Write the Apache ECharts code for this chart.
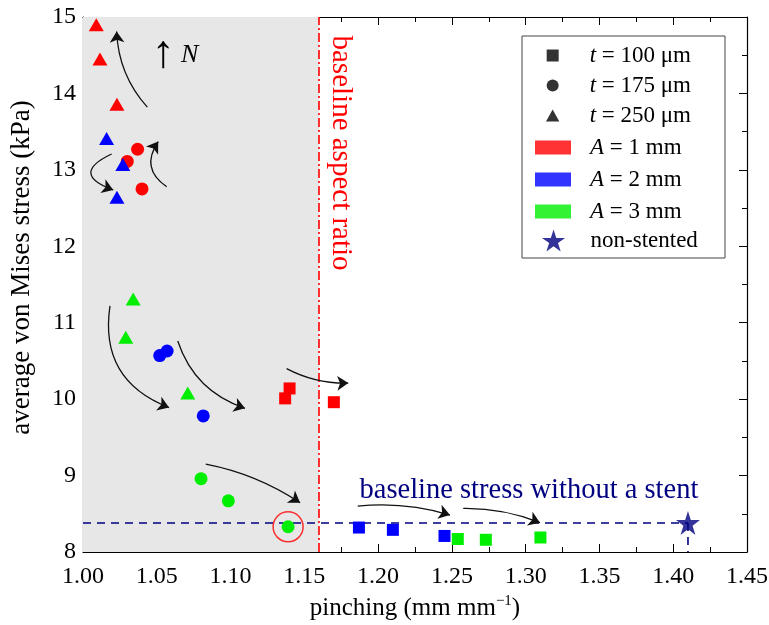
<!DOCTYPE html>
<html><head><meta charset="utf-8">
<script src="https://cdn.jsdelivr.net/npm/echarts@6/dist/echarts.min.js"></script>
<style>html,body{margin:0;padding:0;background:#fff}#c{width:769px;height:625px}</style>
</head><body><div id="c"></div>
<script>
// ---------------- data ----------------
const xTickLabels = ['1.00','1.05','1.10','1.15','1.20','1.25','1.30','1.35','1.40','1.45'];
const yTickLabels = ['8','9','10','11','12','13','14','15'];

// A = 1 mm (red)
const a1_t100 = [[1.137,10.01],[1.140,10.14],[1.170,9.96]];
const a1_t175 = [[1.030,13.11],[1.037,13.27],[1.040,12.75]];
const a1_t250 = [[1.009,14.90],[1.0115,14.45],[1.023,13.86]];
// A = 2 mm (blue)
const a2_t100 = [[1.187,8.32],[1.210,8.29],[1.245,8.21]];
const a2_t175 = [[1.052,10.57],[1.057,10.63],[1.0815,9.78]];
const a2_t250 = [[1.016,13.41],[1.027,13.07],[1.023,12.64]];
// A = 3 mm (green)
const a3_t100 = [[1.254,8.17],[1.273,8.16],[1.310,8.19]];
const a3_t175 = [[1.080,8.96],[1.0985,8.67],[1.139,8.33]];
const a3_t250 = [[1.034,11.31],[1.029,10.81],[1.071,10.08]];
// non-stented
const nonStented = [[1.41,8.38]];
const highlighted = [[1.139,8.33]];

const baselineStress = 8.38;
const baselineAspect = 1.16;

// curved arrows: start / end in data units
const arrowPaths = [
  [[1.0436,13.82],[1.0228,14.81]],
  [[1.0194,13.207],[1.0205,12.737]],
  [[1.0567,12.78],[1.051,13.37]],
  [[1.0183,11.22],[1.0583,9.89]],
  [[1.0642,10.76],[1.1098,9.88]],
  [[1.138,10.40],[1.1798,10.21]],
  [[1.0832,9.15],[1.1471,8.645]],
  [[1.1862,8.60],[1.2487,8.484]],
  [[1.2577,8.57],[1.3097,8.383]]
];
const arrowBends = [0.18,-1.2,0.5,-0.4,-0.25,-0.13,0.1,0.1,0.1];

// annotation anchors (data units)
const aspectLabelPos = [1.1748, 13.22];
const stressLabelPos = [1.3022, 8.80];
const northLabelPos = [1.0623, 14.50];

// ---------------- styling ----------------
const SERIF = '"Liberation Serif","Times New Roman",serif';
const RED = '#ff0000', BLUE = '#0000ff', GREEN = '#00ee00', NAVY = '#000080';
const STAR = 'path://M50,2 L61.2,36.6 L97.6,36.6 L68.2,58 L79.4,92.6 L50,71.2 L20.6,92.6 L31.8,58 L2.4,36.6 L38.8,36.6 Z';
const SQ_ICON = 'path://M0,0H10V10H0Z';
const TRI_ICON = 'path://M5,0L10,9L0,9Z';
const BAR_ICON = 'path://M0,0H36V14H0Z';

const shapeOf = {t100:{symbol:'rect',size:12}, t175:{symbol:'circle',size:13}, t250:{symbol:'triangle',size:[15,13]}};
function sc(name, data, color, shape){
  return {type:'scatter', name, data, symbol:shapeOf[shape].symbol, symbolSize:shapeOf[shape].size,
    itemStyle:{color, opacity:1}, z:4, silent:true};
}

function axisCommon(){
  return {
    type:'value', axisLine:{show:true, onZero:false, lineStyle:{color:'#000', width:1.2}},
    axisTick:{show:true, inside:true, length:8, lineStyle:{color:'#000', width:1}},
    minorTick:{show:true, splitNumber:2, length:5, lineStyle:{color:'#000', width:1}},
    splitLine:{show:false}, minorSplitLine:{show:false}
  };
}

const richLegend = {i:{fontStyle:'italic', fontFamily:SERIF, fontSize:23, lineHeight:20, color:'#000'}};
const legendText = {fontFamily:SERIF, fontSize:23, color:'#000', lineHeight:20, rich:richLegend};
const legendFmt = n => n.replace(/^([tA]) /, '{i|$1} ');

const option = {
  animation:false,
  backgroundColor:'#fff',
  grid:{left:83, right:22, top:17, bottom:73, containLabel:false, outerBoundsMode:'none'},
  xAxis:[
    Object.assign(axisCommon(), {
      min:1.0, max:1.45, interval:0.05, position:'bottom',
      axisLabel:{show:true, margin:13, fontFamily:SERIF, fontSize:24, color:'#000', hideOverlap:false,
        showMinLabel:true, showMaxLabel:true,
        formatter:v => xTickLabels[Math.round((v-1)/0.05)] ?? ''},
      name:'pinching (mm mm{sup|−1})', nameLocation:'middle', nameGap:42,
      nameTextStyle:{fontFamily:SERIF, fontSize:25, color:'#000', lineHeight:28,
        rich:{sup:{fontFamily:SERIF, fontSize:15, verticalAlign:'top', lineHeight:28, color:'#000'}}}
    }),
    Object.assign(axisCommon(), {min:1.0, max:1.45, interval:0.05, position:'top', axisLabel:{show:false}})
  ],
  yAxis:[
    Object.assign(axisCommon(), {
      min:8, max:15, interval:1, position:'left',
      axisLabel:{show:true, margin:7, fontFamily:SERIF, fontSize:24, color:'#000', hideOverlap:false,
        showMinLabel:true, showMaxLabel:true,
        formatter:v => yTickLabels[Math.round(v-8)] ?? ''},
      name:'average von Mises stress (kPa)', nameLocation:'middle', nameGap:48,
      nameTextStyle:{fontFamily:SERIF, fontSize:27, color:'#000', padding:[0,0,0,34]}
    }),
    Object.assign(axisCommon(), {min:8, max:15, interval:1, position:'right', axisLabel:{show:false}})
  ],
  legend:[
    {orient:'vertical', left:546, top:44, itemWidth:64, itemHeight:12, itemGap:7, padding:0,
      selectedMode:false, textStyle:legendText, formatter:legendFmt,
      data:[{name:'t = 100 μm', icon:SQ_ICON},{name:'t = 175 μm', icon:'circle'},{name:'t = 250 μm', icon:TRI_ICON}]},
    {orient:'vertical', left:535, top:136, itemWidth:64, itemHeight:14, itemGap:9, padding:0,
      selectedMode:false, textStyle:legendText, formatter:legendFmt,
      data:[{name:'A = 1 mm', icon:BAR_ICON},{name:'A = 2 mm', icon:BAR_ICON},{name:'A = 3 mm', icon:BAR_ICON}]},
    {orient:'vertical', left:542, top:229, itemWidth:64, itemHeight:22, itemGap:11, padding:0,
      selectedMode:false, textStyle:legendText, formatter:legendFmt,
      data:[{name:'non-stented', icon:STAR}]}
  ],
  series:[
    // shaded region + baseline aspect ratio line, hosted on the baseline stress line
    {type:'line', name:'baseline stress', data:[[1.0,baselineStress],[nonStented[0][0],baselineStress]],
      showSymbol:false, symbol:'none', silent:true, z:3,
      lineStyle:{color:NAVY, width:1.6, type:[8,6]},
      markArea:{silent:true, z:1, itemStyle:{color:'#e7e7e7'}, label:{show:false},
        data:[[{xAxis:1.0},{xAxis:baselineAspect}]]},
      markLine:{silent:true, symbol:['none','none'], label:{show:false}, z:3,
        lineStyle:{color:RED, width:1.6, type:[9,3,2,3]}, data:[{xAxis:baselineAspect}]}
    },
    {type:'line', name:'baseline tick', data:[[nonStented[0][0],baselineStress],[nonStented[0][0],8]],
      showSymbol:false, symbol:'none', silent:true, z:3, lineStyle:{color:NAVY, width:1.6, type:[8,6]}},
    sc('A1 t100', a1_t100, RED, 't100'), sc('A1 t175', a1_t175, RED, 't175'), sc('A1 t250', a1_t250, RED, 't250'),
    sc('A2 t100', a2_t100, BLUE, 't100'), sc('A2 t175', a2_t175, BLUE, 't175'), sc('A2 t250', a2_t250, BLUE, 't250'),
    sc('A3 t100', a3_t100, GREEN, 't100'), sc('A3 t175', a3_t175, GREEN, 't175'), sc('A3 t250', a3_t250, GREEN, 't250'),
    {type:'scatter', name:'non-stented', data:nonStented, symbol:STAR, symbolSize:24, itemStyle:{color:NAVY}, z:5, silent:true},
    {type:'scatter', name:'highlight', data:highlighted, symbol:'circle', symbolSize:30, z:5, silent:true,
      itemStyle:{color:'rgba(0,0,0,0)', borderColor:RED, borderWidth:1.5}},
    // legend-only series
    {type:'scatter', name:'t = 100 μm', data:[], itemStyle:{color:'#000'}},
    {type:'scatter', name:'t = 175 μm', data:[], itemStyle:{color:'#000'}},
    {type:'scatter', name:'t = 250 μm', data:[], itemStyle:{color:'#000'}},
    {type:'scatter', name:'A = 1 mm', data:[], itemStyle:{color:RED}},
    {type:'scatter', name:'A = 2 mm', data:[], itemStyle:{color:BLUE}},
    {type:'scatter', name:'A = 3 mm', data:[], itemStyle:{color:GREEN}},
    // arrows
    {type:'lines', coordinateSystem:'cartesian2d', xAxisIndex:0, yAxisIndex:0, polyline:false, silent:true, z:6,
      symbol:['none','arrow'], symbolSize:11,
      lineStyle:{color:'#111', width:1.3, opacity:1},
      data:arrowPaths.map((c,i)=>({coords:c, lineStyle:{curveness:arrowBends[i]}}))}
  ]
};

const chart = echarts.init(document.getElementById('c'), null, {renderer:'canvas'});
chart.setOption(option);
const px = p => chart.convertToPixel({xAxisIndex:0, yAxisIndex:0}, p);
const pA = px(aspectLabelPos), pS = px(stressLabelPos), pN = px(northLabelPos);
chart.setOption({graphic:[
  {type:'rect', silent:true, z:0, shape:{x:522, y:36, width:203, height:222},
    style:{fill:'#fff', stroke:'#444', lineWidth:1}},
  {type:'text', silent:true, z:10, x:pA[0], y:pA[1], rotation:-Math.PI/2,
    style:{text:'baseline aspect ratio', fill:RED, font:'29px ' + SERIF, align:'center', verticalAlign:'middle'}},
  {type:'text', silent:true, z:10, x:pS[0], y:pS[1],
    style:{text:'baseline stress without a stent', fill:NAVY, font:'28.5px ' + SERIF, align:'center', verticalAlign:'middle'}},
  {type:'text', silent:true, z:10, x:pN[0], y:pN[1],
    style:{text:'{a|↑}{s| }{i|N}', fill:'#000', font:'26px ' + SERIF, align:'center', verticalAlign:'middle',
      rich:{a:{font:'46px ' + SERIF, fill:'#000', lineHeight:46},
            s:{font:'26px ' + SERIF, fill:'#000', lineHeight:46},
            i:{font:'italic 26px ' + SERIF, fill:'#000', lineHeight:46}}}}
]});
</script>
</body></html>
